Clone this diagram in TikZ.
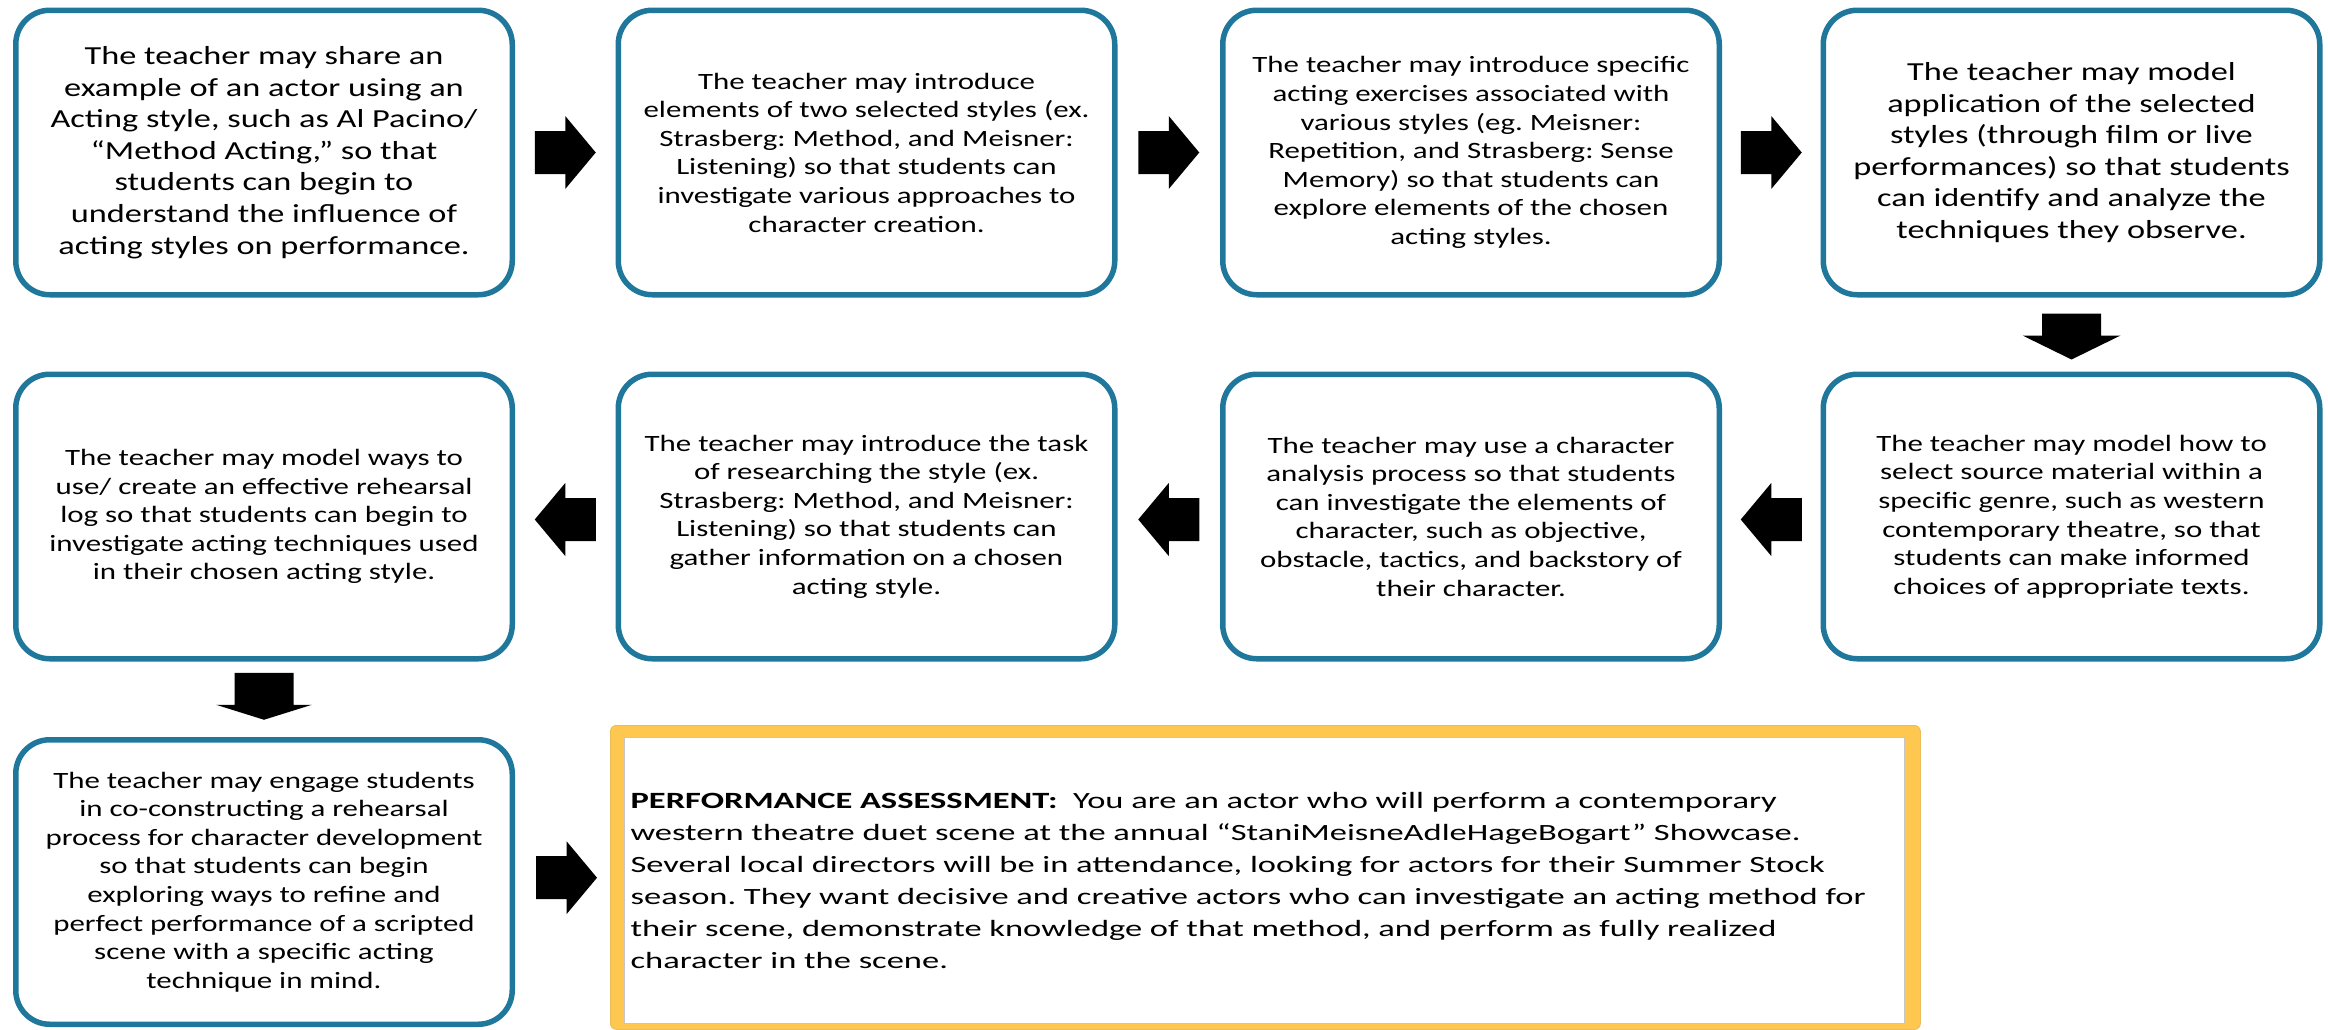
\documentclass[tikz,border=0pt]{standalone}
\usepackage{fontspec}
\setmainfont{Carlito}
\newfontfamily\boxfont[FakeStretch=1.32]{Carlito}
\newfontfamily\perffont[FakeStretch=1.48]{Carlito}
\usetikzlibrary{calc}
\definecolor{tealline}{RGB}{31,120,155}
\definecolor{goldframe}{RGB}{254,199,80}
\frenchspacing
\tikzset{
  stepbox/.style={draw=tealline, line width=2.75pt, rounded corners=17pt, fill=white,
    minimum width=248.25pt, minimum height=142.25pt, inner sep=0pt, align=center,
    font=\boxfont\fontsize{11.7}{14.3}\selectfont},
  bigtext/.style={font=\boxfont\fontsize{13}{15.8}\selectfont},
  rightarr/.pic={\fill[black] (-30.5,-21.5) -- (0,-21.5) -- (0,-36.5) -- (30.5,0) -- (0,36.5) -- (0,21.5) -- (-30.5,21.5) -- cycle;},
  downarr/.pic={\fill[black] (-29.5,-23) -- (29.5,-23) -- (29.5,-1) -- (49,-1) -- (0,23) -- (-49,-1) -- (-29.5,-1) -- cycle;},
  downflat/.pic={\fill[black] (-29.5,-23.5) -- (29.5,-23.5) -- (29.5,8.5) -- (48,8.5) -- (0,23.5) -- (-48,8.5) -- (-29.5,8.5) -- cycle;}
}
\begin{document}
\begin{tikzpicture}[x=0.5pt,y=-0.5pt]
\useasboundingbox (0,0) rectangle (2328,1029);
% row 1
\node[stepbox,bigtext] (b1) at (264,152.5) {The teacher may share an\\example of an actor using an\\Acting style, such as Al Pacino/\\“Method Acting,” so that\\students can begin to\\understand the influence of\\acting styles on performance.};
\node[stepbox] (b2) at (866.5,152.5) {The teacher may introduce\\elements of two selected styles (ex.\\Strasberg: Method, and Meisner:\\Listening) so that students can\\investigate various approaches to\\character creation.};
\node[stepbox] (b3) at (1471,152.5) {The teacher may introduce specific\\acting exercises associated with\\various styles (eg. Meisner:\\Repetition, and Strasberg: Sense\\Memory) so that students can\\explore elements of the chosen\\acting styles.};
\node[stepbox,bigtext] (b4) at (2071.5,152.5) {The teacher may model\\application of the selected\\styles (through film or live\\performances) so that students\\can identify and analyze the\\techniques they observe.};
% row 2
\node[stepbox] (b5) at (2071.5,516.5) {The teacher may model how to\\select source material within a\\specific genre, such as western\\contemporary theatre, so that\\students can make informed\\choices of appropriate texts.};
\node[stepbox] (b6) at (1471,516.5) {The teacher may use a character\\analysis process so that students\\can investigate the elements of\\character, such as objective,\\obstacle, tactics, and backstory of\\their character.};
\node[stepbox] (b7) at (866.5,516.5) {The teacher may introduce the task\\of researching the style (ex.\\Strasberg: Method, and Meisner:\\Listening) so that students can\\gather information on a chosen\\acting style.};
\node[stepbox] (b8) at (264,516.5) {The teacher may model ways to\\use/ create an effective rehearsal\\log so that students can begin to\\investigate acting techniques used\\in their chosen acting style.};
% row 3
\node[stepbox] (b9) at (264,882) {The teacher may engage students\\in co-constructing a rehearsal\\process for character development\\so that students can begin\\exploring ways to refine and\\perfect performance of a scripted\\scene with a specific acting\\technique in mind.};
% performance assessment
\node[fill=goldframe, draw=goldframe!85!gray, line width=0.4pt, rounded corners=3pt, minimum width=655pt, minimum height=152pt, anchor=north west, inner sep=0pt] (perfouter) at (610,725) {};
\node[fill=white, draw=gray!45, line width=0.6pt, minimum width=640pt, minimum height=143pt, anchor=north west, inner sep=2pt, text width=634pt, align=left, font=\perffont\fontsize{11.65}{15.95}\selectfont] (perf) at (624,737) {\textbf{PERFORMANCE ASSESSMENT:}\ \ You are an actor who will perform a contemporary\\western theatre duet scene at the annual “StaniMeisneAdleHageBogart” Showcase.\\Several local directors will be in attendance, looking for actors for their Summer Stock\\season. They want decisive and creative actors who can investigate an acting method for\\their scene, demonstrate knowledge of that method, and perform as fully realized\\character in the scene.};
% arrows
\pic at ($(b1.east)!0.5!(b2.west)$) {rightarr};
\pic at ($(b2.east)!0.5!(b3.west)$) {rightarr};
\pic at ($(b3.east)!0.5!(b4.west)$) {rightarr};
\pic at ($(b4.south)!0.5!(b5.north)+(0,2)$) {downarr};
\pic[rotate=180] at ($(b5.west)!0.5!(b6.east)+(0,3)$) {rightarr};
\pic[rotate=180] at ($(b6.west)!0.5!(b7.east)+(0,3)$) {rightarr};
\pic[rotate=180] at ($(b7.west)!0.5!(b8.east)+(0,3)$) {rightarr};
\pic at ($(b8.south)!0.5!(b9.north)+(0,-3)$) {downflat};
\pic at ($(b9.east)!0.5!(perfouter.west)+(4,-2)$) {rightarr};
\end{tikzpicture}
\end{document}
